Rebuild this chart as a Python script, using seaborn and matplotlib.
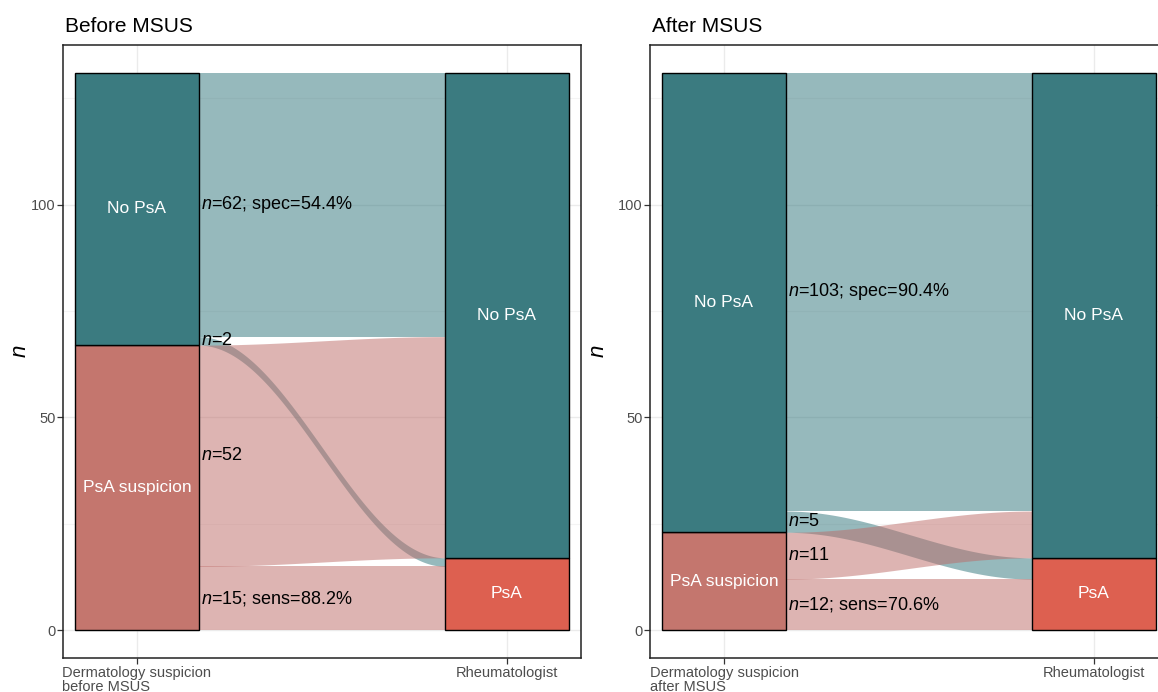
import numpy as np
import matplotlib.pyplot as plt
import seaborn as sns

# data: counts[derm level][rheum level], levels listed bottom to top
panel_titles = ["Before MSUS", "After MSUS"]
derm_axis_names = ["Dermatology suspicion\nbefore MSUS", "Dermatology suspicion\nafter MSUS"]
rheum_axis_name = "Rheumatologist"
derm_levels = ["PsA suspicion", "No PsA"]
rheum_levels = ["PsA", "No PsA"]
before_counts = [[15, 52], [2, 62]]
after_counts = [[12, 11], [5, 103]]
y_ticks = [0, 50, 100]

stratum_colors = {"No PsA": "#3b7b80", "PsA suspicion": "#c4766e", "PsA": "#dd6050"}
flow_colors = {"No PsA": "#2f747a", "PsA suspicion": "#bd6b67"}

sns.set_theme(style="whitegrid")
plt.rcParams['font.family'] = ['Liberation Sans', 'DejaVu Sans']
plt.rcParams['mathtext.fontset'] = 'custom'
plt.rcParams['mathtext.it'] = 'Liberation Sans:italic'
plt.rcParams['mathtext.rm'] = 'Liberation Sans'

W = 1 / 3  # stratum width


def draw_alluvial(ax, counts, title, derm_name, ylab_x):
    counts = np.array(counts)
    n_d, n_r = counts.shape
    # stack lodes on each axis
    left_lo = np.zeros_like(counts)
    right_lo = np.zeros_like(counts)
    y = 0
    for i in range(n_d):
        for j in range(n_r):
            left_lo[i, j] = y
            y += counts[i, j]
    y = 0
    for j in range(n_r):
        for i in range(n_d):
            right_lo[i, j] = y
            y += counts[i, j]

    # flows
    x0, x1 = 1 + W / 2, 2 - W / 2
    t = np.linspace(0, 1, 200)
    s = (1 - np.cos(np.pi * t)) / 2
    xs = x0 + (x1 - x0) * t
    for i in reversed(range(n_d)):
        for j in range(n_r):
            c = counts[i, j]
            lo = left_lo[i, j] + (right_lo[i, j] - left_lo[i, j]) * s
            ax.fill_between(xs, lo, lo + c, color=flow_colors[derm_levels[i]],
                            alpha=0.5, lw=0, zorder=2)

    # strata
    derm_tot = counts.sum(axis=1)
    rheum_tot = counts.sum(axis=0)
    y = 0
    for i, lev in enumerate(derm_levels):
        ax.bar(1, derm_tot[i], bottom=y, width=W, color=stratum_colors[lev],
               edgecolor='black', lw=1, zorder=3)
        ax.text(1, y + derm_tot[i] / 2, lev, color='white', fontsize=12.5,
                ha='center', va='center', zorder=4)
        y += derm_tot[i]
    y = 0
    for j, lev in enumerate(rheum_levels):
        ax.bar(2, rheum_tot[j], bottom=y, width=W, color=stratum_colors[lev],
               edgecolor='black', lw=1, zorder=3)
        ax.text(2, y + rheum_tot[j] / 2, lev, color='white', fontsize=12.5,
                ha='center', va='center', zorder=4)
        y += rheum_tot[j]

    # flow labels
    for i in range(n_d):
        for j in range(n_r):
            c = counts[i, j]
            lab = f"$n$={c}"
            if derm_levels[i] == "No PsA" and rheum_levels[j] == "No PsA":
                lab += f"; spec={100 * c / rheum_tot[j]:.1f}%"
            if derm_levels[i] == "PsA suspicion" and rheum_levels[j] == "PsA":
                lab += f"; sens={100 * c / rheum_tot[j]:.1f}%"
            ax.text(x0 + 0.005, left_lo[i, j] + c / 2, lab, fontsize=13,
                    ha='left', va='center', color='black', zorder=5)

    total = counts.sum()
    ax.set_xlim(0.8, 2.2)
    ax.set_ylim(-0.05 * total, 1.05 * total)
    ax.set_xticks([1, 2])
    ax.set_xticklabels([derm_name, rheum_axis_name], linespacing=1.0)
    ax.get_xticklabels()[0].set_multialignment('left')
    ax.set_yticks(y_ticks)
    ax.set_yticks([25, 75, 125], minor=True)
    ax.grid(True, which='major', color='#ebebeb', lw=1, zorder=0)
    ax.grid(True, which='minor', axis='y', color='#f4f4f4', lw=0.8, zorder=0)
    ax.set_axisbelow(True)
    ax.tick_params(axis='both', which='major', left=True, bottom=True, length=4,
                   width=0.9, color='#333333', labelcolor='#4d4d4d',
                   labelsize=10.5, pad=1.5)
    ax.tick_params(axis='both', which='minor', length=0)
    for sp in ax.spines.values():
        sp.set_color('#222222')
        sp.set_linewidth(1.1)
    ax.set_ylabel("$n$", fontsize=16, color='black', rotation=90)
    ax.yaxis.set_label_coords(ylab_x, 0.5)
    ax.set_xlabel("")
    ax.set_title(title, loc='left', fontsize=15, color='black', pad=9, x=0.003)


fig = plt.figure(figsize=(11.58, 6.92), dpi=100)
ax1 = fig.add_axes([63 / 1158, 34 / 692, 518 / 1158, 613 / 692])
ax2 = fig.add_axes([650 / 1158, 34 / 692, 518 / 1158, 613 / 692])
draw_alluvial(ax1, before_counts, panel_titles[0], derm_axis_names[0], -0.062)
draw_alluvial(ax2, after_counts, panel_titles[1], derm_axis_names[1], -0.08)

fig.savefig("out.png", dpi=100)
